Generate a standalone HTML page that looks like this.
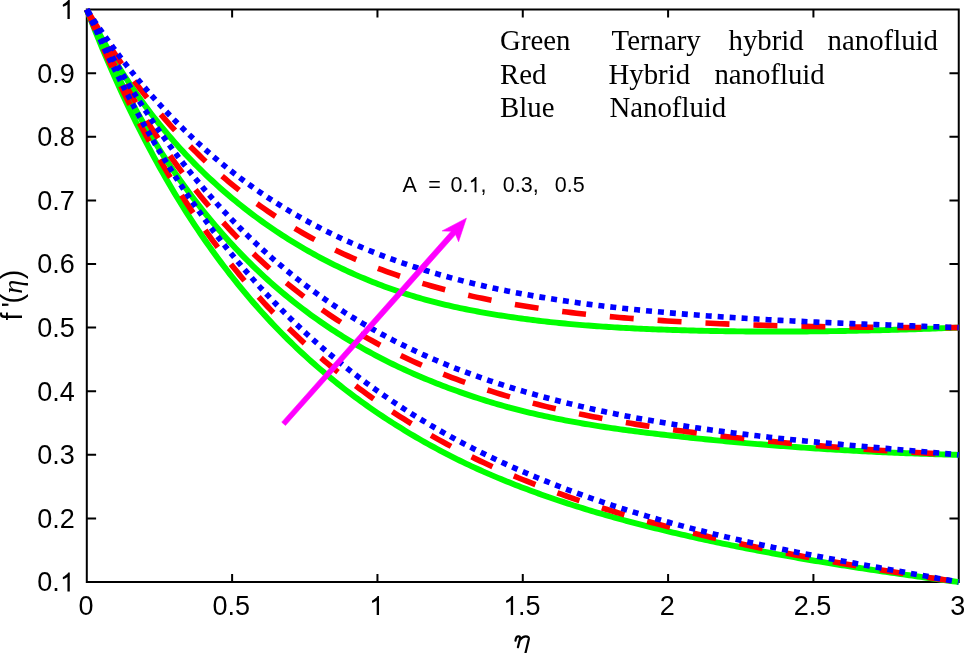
<!DOCTYPE html>
<html><head><meta charset="utf-8"><style>
html,body{margin:0;padding:0;background:#fff;width:964px;height:653px;overflow:hidden}
svg{display:block;will-change:transform}
.s{font-family:"Liberation Sans",sans-serif}
.t{font-family:"Liberation Serif",serif}
</style></head><body>
<svg width="964" height="653" viewBox="0 0 964 653">
<rect width="964" height="653" fill="#fff"/>
<path d="M86.8,9.57 H958.75 V582.06 H86.8 Z M86.80,582.06 V574.06 M86.80,9.57 V17.57 M232.12,582.06 V574.06 M232.12,9.57 V17.57 M377.45,582.06 V574.06 M377.45,9.57 V17.57 M522.78,582.06 V574.06 M522.78,9.57 V17.57 M668.10,582.06 V574.06 M668.10,9.57 V17.57 M813.42,582.06 V574.06 M813.42,9.57 V17.57 M958.75,582.06 V574.06 M958.75,9.57 V17.57 M86.8,582.06 H96.10 M958.75,582.06 H949.45 M86.8,518.45 H96.10 M958.75,518.45 H949.45 M86.8,454.84 H96.10 M958.75,454.84 H949.45 M86.8,391.23 H96.10 M958.75,391.23 H949.45 M86.8,327.62 H96.10 M958.75,327.62 H949.45 M86.8,264.01 H96.10 M958.75,264.01 H949.45 M86.8,200.40 H96.10 M958.75,200.40 H949.45 M86.8,136.79 H96.10 M958.75,136.79 H949.45 M86.8,73.18 H96.10 M958.75,73.18 H949.45 M86.8,9.57 H96.10 M958.75,9.57 H949.45" fill="none" stroke="#000" stroke-width="2"/>
<g fill="none" stroke-width="5.6" stroke-linejoin="round" stroke-linecap="butt">
<path d="M86.80,9.57 89.72,17.09 92.63,24.50 95.55,31.80 98.46,38.98 101.38,46.06 104.30,53.03 107.21,59.89 110.13,66.65 113.05,73.31 115.96,79.87 118.88,86.33 121.79,92.70 124.71,98.97 127.63,105.15 130.54,111.24 133.46,117.24 136.38,123.15 139.29,128.97 142.21,134.71 145.12,140.37 148.04,145.94 150.96,151.44 153.87,156.85 156.79,162.19 159.71,167.45 162.62,172.64 165.54,177.75 168.45,182.79 171.37,187.76 174.29,192.66 177.20,197.48 180.12,202.25 183.04,206.94 185.95,211.57 188.87,216.13 191.78,220.63 194.70,225.07 197.62,229.45 200.53,233.77 203.45,238.03 206.37,242.22 209.28,246.37 212.20,250.45 215.11,254.48 218.03,258.46 220.95,262.38 223.86,266.25 226.78,270.07 229.69,273.83 232.61,277.55 235.53,281.21 238.44,284.83 241.36,288.40 244.28,291.92 247.19,295.40 250.11,298.83 253.02,302.21 255.94,305.55 258.86,308.85 261.77,312.11 264.69,315.32 267.61,318.49 270.52,321.62 273.44,324.71 276.35,327.76 279.27,330.77 282.19,333.74 285.10,336.67 288.02,339.57 290.94,342.43 293.85,345.25 296.77,348.04 299.68,350.79 302.60,353.51 305.52,356.19 308.43,358.85 311.35,361.46 314.27,364.05 317.18,366.60 320.10,369.12 323.01,371.61 325.93,374.07 328.85,376.50 331.76,378.90 334.68,381.27 337.59,383.61 340.51,385.93 343.43,388.21 346.34,390.47 349.26,392.70 352.18,394.90 355.09,397.08 358.01,399.23 360.92,401.35 363.84,403.45 366.76,405.52 369.67,407.57 372.59,409.60 375.51,411.60 378.42,413.58 381.34,415.53 384.25,417.46 387.17,419.37 390.09,421.26 393.00,423.13 395.92,424.98 398.84,426.81 401.75,428.61 404.67,430.40 407.58,432.16 410.50,433.91 413.42,435.64 416.33,437.35 419.25,439.04 422.17,440.71 425.08,442.36 428.00,443.99 430.91,445.61 433.83,447.20 436.75,448.78 439.66,450.34 442.58,451.88 445.50,453.40 448.41,454.90 451.33,456.39 454.24,457.86 457.16,459.31 460.08,460.74 462.99,462.16 465.91,463.56 468.82,464.94 471.74,466.30 474.66,467.65 477.57,468.98 480.49,470.30 483.41,471.59 486.32,472.88 489.24,474.14 492.15,475.40 495.07,476.63 497.99,477.85 500.90,479.06 503.82,480.26 506.74,481.44 509.65,482.60 512.57,483.76 515.48,484.90 518.40,486.03 521.32,487.15 524.23,488.25 527.15,489.35 530.07,490.43 532.98,491.50 535.90,492.57 538.81,493.62 541.73,494.66 544.65,495.69 547.56,496.71 550.48,497.72 553.40,498.72 556.31,499.71 559.23,500.69 562.14,501.66 565.06,502.62 567.98,503.57 570.89,504.51 573.81,505.44 576.73,506.36 579.64,507.28 582.56,508.18 585.47,509.08 588.39,509.97 591.31,510.85 594.22,511.72 597.14,512.58 600.05,513.44 602.97,514.28 605.89,515.12 608.80,515.95 611.72,516.78 614.64,517.59 617.55,518.40 620.47,519.20 623.38,520.00 626.30,520.78 629.22,521.56 632.13,522.34 635.05,523.10 637.97,523.86 640.88,524.62 643.80,525.36 646.71,526.10 649.63,526.84 652.55,527.57 655.46,528.29 658.38,529.01 661.30,529.72 664.21,530.43 667.13,531.13 670.04,531.83 672.96,532.52 675.88,533.20 678.79,533.88 681.71,534.56 684.63,535.23 687.54,535.90 690.46,536.56 693.37,537.22 696.29,537.87 699.21,538.51 702.12,539.16 705.04,539.79 707.96,540.43 710.87,541.06 713.79,541.68 716.70,542.30 719.62,542.91 722.54,543.52 725.45,544.13 728.37,544.73 731.28,545.33 734.20,545.92 737.12,546.51 740.03,547.10 742.95,547.68 745.87,548.25 748.78,548.82 751.70,549.39 754.61,549.96 757.53,550.52 760.45,551.08 763.36,551.63 766.28,552.18 769.20,552.72 772.11,553.26 775.03,553.80 777.94,554.34 780.86,554.87 783.78,555.39 786.69,555.92 789.61,556.44 792.53,556.95 795.44,557.47 798.36,557.98 801.27,558.48 804.19,558.99 807.11,559.49 810.02,559.98 812.94,560.48 815.86,560.97 818.77,561.46 821.69,561.94 824.60,562.42 827.52,562.90 830.44,563.38 833.35,563.85 836.27,564.32 839.18,564.79 842.10,565.25 845.02,565.71 847.93,566.17 850.85,566.63 853.77,567.08 856.68,567.53 859.60,567.98 862.51,568.43 865.43,568.87 868.35,569.32 871.26,569.76 874.18,570.19 877.10,570.63 880.01,571.06 882.93,571.49 885.84,571.92 888.76,572.35 891.68,572.77 894.59,573.19 897.51,573.61 900.43,574.03 903.34,574.45 906.26,574.86 909.17,575.27 912.09,575.69 915.01,576.10 917.92,576.50 920.84,576.91 923.76,577.31 926.67,577.72 929.59,578.12 932.50,578.52 935.42,578.92 938.34,579.31 941.25,579.71 944.17,580.11 947.09,580.50 950.00,580.89 952.92,581.28 955.83,581.67 958.75,582.06" stroke="#00ff00" stroke-width="5.9"/>
<path d="M86.80,9.57 89.72,16.31 92.63,22.94 95.55,29.47 98.46,35.89 101.38,42.21 104.30,48.43 107.21,54.56 110.13,60.58 113.05,66.51 115.96,72.35 118.88,78.09 121.79,83.75 124.71,89.31 127.63,94.79 130.54,100.19 133.46,105.50 136.38,110.73 139.29,115.87 142.21,120.94 145.12,125.93 148.04,130.85 150.96,135.68 153.87,140.45 156.79,145.14 159.71,149.75 162.62,154.30 165.54,158.78 168.45,163.19 171.37,167.54 174.29,171.81 177.20,176.03 180.12,180.18 183.04,184.26 185.95,188.29 188.87,192.25 191.78,196.16 194.70,200.01 197.62,203.80 200.53,207.53 203.45,211.21 206.37,214.83 209.28,218.40 212.20,221.92 215.11,225.38 218.03,228.79 220.95,232.16 223.86,235.47 226.78,238.73 229.69,241.95 232.61,245.12 235.53,248.24 238.44,251.32 241.36,254.35 244.28,257.34 247.19,260.28 250.11,263.18 253.02,266.04 255.94,268.86 258.86,271.63 261.77,274.37 264.69,277.06 267.61,279.72 270.52,282.34 273.44,284.92 276.35,287.46 279.27,289.97 282.19,292.44 285.10,294.88 288.02,297.28 290.94,299.64 293.85,301.98 296.77,304.27 299.68,306.54 302.60,308.77 305.52,310.97 308.43,313.14 311.35,315.28 314.27,317.39 317.18,319.47 320.10,321.51 323.01,323.53 325.93,325.52 328.85,327.49 331.76,329.42 334.68,331.33 337.59,333.21 340.51,335.06 343.43,336.88 346.34,338.69 349.26,340.46 352.18,342.21 355.09,343.93 358.01,345.63 360.92,347.31 363.84,348.96 366.76,350.59 369.67,352.20 372.59,353.78 375.51,355.34 378.42,356.88 381.34,358.40 384.25,359.89 387.17,361.36 390.09,362.81 393.00,364.24 395.92,365.65 398.84,367.04 401.75,368.41 404.67,369.76 407.58,371.09 410.50,372.40 413.42,373.69 416.33,374.97 419.25,376.22 422.17,377.46 425.08,378.69 428.00,379.89 430.91,381.08 433.83,382.25 436.75,383.41 439.66,384.55 442.58,385.68 445.50,386.79 448.41,387.89 451.33,388.97 454.24,390.04 457.16,391.09 460.08,392.13 462.99,393.15 465.91,394.16 468.82,395.15 471.74,396.13 474.66,397.10 477.57,398.05 480.49,398.99 483.41,399.91 486.32,400.82 489.24,401.72 492.15,402.60 495.07,403.46 497.99,404.32 500.90,405.16 503.82,405.98 506.74,406.79 509.65,407.59 512.57,408.37 515.48,409.14 518.40,409.89 521.32,410.63 524.23,411.36 527.15,412.08 530.07,412.78 532.98,413.47 535.90,414.15 538.81,414.81 541.73,415.47 544.65,416.11 547.56,416.74 550.48,417.36 553.40,417.96 556.31,418.56 559.23,419.15 562.14,419.72 565.06,420.29 567.98,420.84 570.89,421.38 573.81,421.92 576.73,422.44 579.64,422.96 582.56,423.47 585.47,423.97 588.39,424.45 591.31,424.94 594.22,425.41 597.14,425.87 600.05,426.33 602.97,426.78 605.89,427.22 608.80,427.65 611.72,428.08 614.64,428.50 617.55,428.92 620.47,429.32 623.38,429.72 626.30,430.12 629.22,430.51 632.13,430.89 635.05,431.27 637.97,431.64 640.88,432.01 643.80,432.38 646.71,432.74 649.63,433.09 652.55,433.44 655.46,433.79 658.38,434.13 661.30,434.47 664.21,434.80 667.13,435.14 670.04,435.47 672.96,435.79 675.88,436.12 678.79,436.44 681.71,436.76 684.63,437.08 687.54,437.39 690.46,437.70 693.37,438.01 696.29,438.31 699.21,438.61 702.12,438.91 705.04,439.21 707.96,439.50 710.87,439.79 713.79,440.08 716.70,440.37 719.62,440.65 722.54,440.93 725.45,441.20 728.37,441.48 731.28,441.75 734.20,442.02 737.12,442.28 740.03,442.55 742.95,442.81 745.87,443.07 748.78,443.32 751.70,443.57 754.61,443.82 757.53,444.07 760.45,444.31 763.36,444.56 766.28,444.80 769.20,445.03 772.11,445.26 775.03,445.50 777.94,445.72 780.86,445.95 783.78,446.17 786.69,446.39 789.61,446.61 792.53,446.83 795.44,447.04 798.36,447.25 801.27,447.45 804.19,447.66 807.11,447.86 810.02,448.06 812.94,448.26 815.86,448.45 818.77,448.64 821.69,448.83 824.60,449.02 827.52,449.20 830.44,449.38 833.35,449.56 836.27,449.73 839.18,449.91 842.10,450.08 845.02,450.25 847.93,450.41 850.85,450.57 853.77,450.73 856.68,450.89 859.60,451.05 862.51,451.20 865.43,451.35 868.35,451.50 871.26,451.64 874.18,451.79 877.10,451.93 880.01,452.06 882.93,452.20 885.84,452.33 888.76,452.46 891.68,452.59 894.59,452.71 897.51,452.84 900.43,452.96 903.34,453.07 906.26,453.19 909.17,453.30 912.09,453.41 915.01,453.52 917.92,453.62 920.84,453.73 923.76,453.83 926.67,453.92 929.59,454.02 932.50,454.11 935.42,454.20 938.34,454.29 941.25,454.38 944.17,454.46 947.09,454.54 950.00,454.62 952.92,454.70 955.83,454.77 958.75,454.84" stroke="#00ff00" stroke-width="5.9"/>
<path d="M86.80,9.57 89.72,15.36 92.63,21.02 95.55,26.57 98.46,32.00 101.38,37.32 104.30,42.53 107.21,47.64 110.13,52.64 113.05,57.55 115.96,62.36 118.88,67.07 121.79,71.70 124.71,76.23 127.63,80.68 130.54,85.05 133.46,89.33 136.38,93.54 139.29,97.67 142.21,101.72 145.12,105.70 148.04,109.61 150.96,113.45 153.87,117.22 156.79,120.93 159.71,124.57 162.62,128.15 165.54,131.67 168.45,135.13 171.37,138.53 174.29,141.88 177.20,145.17 180.12,148.40 183.04,151.59 185.95,154.72 188.87,157.80 191.78,160.83 194.70,163.82 197.62,166.76 200.53,169.65 203.45,172.50 206.37,175.30 209.28,178.06 212.20,180.78 215.11,183.45 218.03,186.09 220.95,188.68 223.86,191.24 226.78,193.76 229.69,196.24 232.61,198.69 235.53,201.09 238.44,203.47 241.36,205.81 244.28,208.11 247.19,210.38 250.11,212.62 253.02,214.82 255.94,217.00 258.86,219.14 261.77,221.25 264.69,223.33 267.61,225.38 270.52,227.40 273.44,229.39 276.35,231.35 279.27,233.28 282.19,235.19 285.10,237.06 288.02,238.91 290.94,240.74 293.85,242.53 296.77,244.30 299.68,246.05 302.60,247.77 305.52,249.46 308.43,251.13 311.35,252.77 314.27,254.39 317.18,255.98 320.10,257.55 323.01,259.09 325.93,260.62 328.85,262.12 331.76,263.59 334.68,265.04 337.59,266.47 340.51,267.88 343.43,269.26 346.34,270.63 349.26,271.97 352.18,273.28 355.09,274.58 358.01,275.86 360.92,277.11 363.84,278.34 366.76,279.56 369.67,280.75 372.59,281.92 375.51,283.07 378.42,284.20 381.34,285.31 384.25,286.40 387.17,287.47 390.09,288.52 393.00,289.55 395.92,290.56 398.84,291.55 401.75,292.52 404.67,293.46 407.58,294.39 410.50,295.30 413.42,296.19 416.33,297.07 419.25,297.92 422.17,298.75 425.08,299.57 428.00,300.37 430.91,301.15 433.83,301.91 436.75,302.66 439.66,303.38 442.58,304.10 445.50,304.79 448.41,305.47 451.33,306.14 454.24,306.79 457.16,307.43 460.08,308.05 462.99,308.66 465.91,309.25 468.82,309.84 471.74,310.41 474.66,310.97 477.57,311.51 480.49,312.05 483.41,312.57 486.32,313.08 489.24,313.59 492.15,314.08 495.07,314.56 497.99,315.04 500.90,315.50 503.82,315.96 506.74,316.40 509.65,316.84 512.57,317.27 515.48,317.69 518.40,318.10 521.32,318.50 524.23,318.90 527.15,319.28 530.07,319.66 532.98,320.02 535.90,320.38 538.81,320.74 541.73,321.08 544.65,321.41 547.56,321.74 550.48,322.06 553.40,322.37 556.31,322.68 559.23,322.97 562.14,323.26 565.06,323.54 567.98,323.82 570.89,324.09 573.81,324.35 576.73,324.60 579.64,324.85 582.56,325.09 585.47,325.33 588.39,325.55 591.31,325.78 594.22,325.99 597.14,326.20 600.05,326.41 602.97,326.61 605.89,326.80 608.80,326.99 611.72,327.17 614.64,327.35 617.55,327.52 620.47,327.69 623.38,327.85 626.30,328.01 629.22,328.16 632.13,328.31 635.05,328.45 637.97,328.59 640.88,328.72 643.80,328.85 646.71,328.98 649.63,329.10 652.55,329.22 655.46,329.34 658.38,329.45 661.30,329.56 664.21,329.66 667.13,329.77 670.04,329.87 672.96,329.96 675.88,330.05 678.79,330.15 681.71,330.23 684.63,330.32 687.54,330.40 690.46,330.48 693.37,330.55 696.29,330.62 699.21,330.69 702.12,330.76 705.04,330.83 707.96,330.89 710.87,330.94 713.79,331.00 716.70,331.05 719.62,331.10 722.54,331.15 725.45,331.20 728.37,331.24 731.28,331.28 734.20,331.32 737.12,331.35 740.03,331.38 742.95,331.41 745.87,331.44 748.78,331.46 751.70,331.48 754.61,331.50 757.53,331.52 760.45,331.53 763.36,331.54 766.28,331.55 769.20,331.56 772.11,331.56 775.03,331.56 777.94,331.56 780.86,331.56 783.78,331.56 786.69,331.55 789.61,331.54 792.53,331.53 795.44,331.51 798.36,331.49 801.27,331.48 804.19,331.45 807.11,331.43 810.02,331.41 812.94,331.38 815.86,331.35 818.77,331.32 821.69,331.28 824.60,331.25 827.52,331.21 830.44,331.17 833.35,331.12 836.27,331.08 839.18,331.03 842.10,330.99 845.02,330.93 847.93,330.88 850.85,330.83 853.77,330.77 856.68,330.71 859.60,330.65 862.51,330.59 865.43,330.53 868.35,330.46 871.26,330.40 874.18,330.33 877.10,330.26 880.01,330.18 882.93,330.11 885.84,330.03 888.76,329.95 891.68,329.87 894.59,329.79 897.51,329.71 900.43,329.63 903.34,329.54 906.26,329.45 909.17,329.36 912.09,329.27 915.01,329.18 917.92,329.09 920.84,328.99 923.76,328.89 926.67,328.80 929.59,328.70 932.50,328.59 935.42,328.49 938.34,328.39 941.25,328.28 944.17,328.17 947.09,328.07 950.00,327.96 952.92,327.85 955.83,327.73 958.75,327.62" stroke="#00ff00" stroke-width="5.9"/>
<path d="M86.80,9.57 88.46,13.62 90.14,17.67 91.82,21.72 93.52,25.76 95.24,29.80M103.44,48.67 105.12,52.43 106.81,56.19 108.51,59.95 110.22,63.70 111.95,67.45M120.78,86.12 122.59,89.84 124.41,93.56 126.24,97.27 128.09,100.98 129.95,104.68M139.48,123.12 141.42,126.79 143.39,130.45 145.37,134.11 147.36,137.76 149.38,141.41M159.67,159.55 161.78,163.16 163.91,166.76 166.05,170.36 168.21,173.94 170.38,177.52M181.53,195.31 183.82,198.84 186.12,202.37 188.44,205.88 190.78,209.39 193.14,212.89M205.22,230.24 207.69,233.68 210.19,237.12 212.70,240.54 215.24,243.95 217.79,247.35M230.89,264.18 233.57,267.51 236.27,270.83 239.00,274.14 241.74,277.43 244.51,280.71M258.68,296.92 261.58,300.12 264.50,303.31 267.45,306.48 270.42,309.63 273.41,312.78M288.71,328.25 291.83,331.30 294.98,334.33 298.16,337.34 301.35,340.34 304.57,343.32M321.02,357.95 324.37,360.82 327.75,363.67 331.15,366.50 334.58,369.32 338.03,372.11M355.60,385.79 359.18,388.47 362.78,391.12 366.40,393.76 370.05,396.37 373.71,398.96M392.35,411.62 396.14,414.08 399.94,416.53 403.77,418.96 407.61,421.37 411.47,423.75M431.06,435.36 435.03,437.61 439.02,439.85 443.03,442.05 447.06,444.24 451.10,446.40M471.60,456.85 475.75,458.87 479.92,460.86 484.10,462.82 488.30,464.77 492.52,466.68M513.83,475.92 518.13,477.71 522.45,479.47 526.77,481.21 531.11,482.93 535.46,484.63M557.35,492.85 561.76,494.44 566.18,496.00 570.61,497.55 575.05,499.08 579.50,500.59M601.86,507.88 606.36,509.29 610.86,510.67 615.37,512.04 619.89,513.40 624.42,514.74M647.14,521.19 651.71,522.44 656.28,523.67 660.85,524.89 665.43,526.09 670.02,527.28M693.01,533.03 697.62,534.14 702.24,535.24 706.86,536.33 711.48,537.40 716.11,538.47M739.31,543.61 743.96,544.61 748.62,545.60 753.27,546.57 757.93,547.54 762.59,548.49M785.95,553.12 790.63,554.02 795.31,554.91 799.99,555.79 804.67,556.66 809.36,557.53M832.83,561.74 837.53,562.56 842.23,563.37 846.93,564.18 851.63,564.98 856.34,565.78M879.88,569.68 884.59,570.45 889.30,571.21 894.02,571.97 898.73,572.72 903.45,573.47M927.04,577.17 931.76,577.90 936.48,578.63 941.20,579.36 945.92,580.09 950.64,580.82" stroke="#ff0000"/>
<path d="M86.80,9.57 88.67,13.56 90.56,17.54 92.46,21.52 94.38,25.49 96.32,29.46M105.60,47.98 107.50,51.67 109.42,55.35 111.35,59.03 113.30,62.70 115.26,66.36M125.31,84.60 127.37,88.23 129.45,91.85 131.55,95.46 133.66,99.07 135.79,102.67M146.72,120.55 148.96,124.10 151.22,127.64 153.50,131.18 155.79,134.71 158.11,138.22M170.01,155.66 172.46,159.12 174.92,162.57 177.41,166.00 179.92,169.43 182.45,172.84M195.43,189.73 198.10,193.07 200.79,196.39 203.51,199.71 206.25,203.01 209.01,206.29M223.19,222.49 226.10,225.68 229.04,228.86 232.00,232.02 234.99,235.16 238.01,238.29M253.48,253.64 256.65,256.66 259.85,259.65 263.08,262.62 266.33,265.58 269.61,268.51M286.42,282.84 289.86,285.64 293.33,288.42 296.83,291.17 300.35,293.90 303.90,296.61M322.04,309.75 325.75,312.30 329.48,314.83 333.24,317.33 337.02,319.80 340.83,322.24M360.24,334.05 364.19,336.33 368.17,338.58 372.17,340.80 376.19,343.00 380.23,345.16M400.77,355.55 404.94,357.54 409.13,359.50 413.34,361.43 417.56,363.34 421.81,365.22M443.28,374.17 447.63,375.88 451.99,377.56 456.36,379.22 460.75,380.84 465.16,382.44M487.39,390.01 491.87,391.44 496.37,392.84 500.88,394.22 505.40,395.57 509.93,396.90M532.74,403.14 537.33,404.32 541.93,405.47 546.53,406.60 551.15,407.70 555.77,408.78M578.99,413.87 583.65,414.82 588.32,415.76 592.99,416.67 597.67,417.57 602.35,418.45M625.84,422.58 630.55,423.36 635.26,424.12 639.98,424.88 644.70,425.61 649.42,426.34M673.06,429.78 677.80,430.43 682.53,431.08 687.27,431.72 692.01,432.34 696.76,432.96M720.50,435.90 725.25,436.46 730.01,437.01 734.76,437.56 739.52,438.09 744.28,438.61M768.09,441.11 772.86,441.58 777.63,442.05 782.40,442.51 787.17,442.96 791.94,443.40M815.80,445.50 820.58,445.90 825.36,446.29 830.14,446.67 834.91,447.05 839.69,447.42M863.60,449.18 868.39,449.52 873.17,449.84 877.95,450.17 882.74,450.48 887.52,450.79M911.46,452.27 916.25,452.55 921.04,452.82 925.83,453.09 930.62,453.36 935.41,453.62" stroke="#ff0000"/>
<path d="M86.80,9.57 89.08,13.41 91.38,17.24 93.70,21.06 96.04,24.87 98.40,28.67M109.78,46.35 112.12,49.86 114.48,53.36 116.85,56.84 119.26,60.32 121.68,63.79M134.13,80.96 136.68,84.36 139.27,87.74 141.87,91.12 144.50,94.48 147.16,97.83M160.80,114.35 163.61,117.61 166.44,120.85 169.29,124.08 172.18,127.29 175.09,130.48M190.05,146.19 193.12,149.27 196.23,152.33 199.36,155.38 202.52,158.40 205.70,161.41M222.07,176.09 225.44,178.96 228.82,181.80 232.24,184.62 235.69,187.42 239.17,190.18M256.99,203.63 260.64,206.24 264.32,208.82 268.03,211.37 271.77,213.89 275.53,216.38M294.77,228.39 298.70,230.70 302.65,232.97 306.63,235.22 310.64,237.43 314.67,239.61M335.20,250.01 339.37,251.99 343.57,253.94 347.79,255.85 352.03,257.74 356.30,259.58M377.90,268.32 382.28,269.96 386.68,271.58 391.09,273.16 395.52,274.71 399.96,276.23M422.40,283.35 426.93,284.68 431.47,285.99 436.02,287.26 440.59,288.50 445.16,289.71M468.20,295.33 472.84,296.36 477.49,297.37 482.14,298.35 486.80,299.31 491.47,300.24M514.93,304.50 519.63,305.29 524.35,306.05 529.06,306.79 533.79,307.52 538.51,308.22M562.20,311.44 566.95,312.03 571.70,312.60 576.45,313.16 581.21,313.69 585.97,314.21M609.80,316.59 614.57,317.02 619.35,317.43 624.12,317.84 628.90,318.23 633.68,318.61M657.59,320.33 662.38,320.64 667.16,320.94 671.95,321.24 676.74,321.52 681.53,321.80M705.48,323.05 710.27,323.27 715.06,323.49 719.86,323.70 724.65,323.90 729.45,324.10M753.42,324.97 758.22,325.13 763.02,325.27 767.81,325.41 772.61,325.55 777.41,325.68M801.40,326.24 806.20,326.34 811.00,326.43 815.80,326.52 820.59,326.60 825.39,326.68M849.39,327.00 854.19,327.06 858.99,327.11 863.79,327.16 868.59,327.20 873.39,327.24M897.39,327.40 902.19,327.43 906.99,327.45 911.79,327.48 916.59,327.50 921.39,327.51M945.39,327.59 948.06,327.59 950.73,327.60 953.40,327.61 956.08,327.61 958.75,327.62" stroke="#ff0000"/>
<path d="M86.80,9.57 88.11,12.56 89.43,15.54M91.52,20.24 92.57,22.59 93.63,24.94M95.76,29.64 96.83,31.98 97.91,34.33M100.07,39.01 101.16,41.35 102.26,43.68M104.46,48.35 105.57,50.69 106.69,53.02M108.93,57.67 110.06,60.00 111.19,62.32M113.47,66.97 114.62,69.29 115.78,71.61M118.10,76.23 119.27,78.55 120.44,80.86M122.81,85.47 124.00,87.78 125.19,90.08M127.60,94.68 128.81,96.97 130.03,99.27M132.48,103.85 133.71,106.14 134.95,108.43M137.45,112.99 138.70,115.27 139.96,117.55M142.51,122.10 143.79,124.37 145.07,126.64M147.66,131.17 148.96,133.43 150.27,135.69M152.91,140.20 154.23,142.45 155.57,144.70M158.25,149.19 159.60,151.43 160.96,153.67M163.70,158.14 165.08,160.37 166.46,162.59M169.25,167.04 170.65,169.26 172.06,171.47M174.90,175.90 176.33,178.11 177.76,180.31M180.66,184.71 182.11,186.90 183.58,189.09M186.53,193.47 188.01,195.65 189.50,197.83M192.50,202.17 194.02,204.34 195.54,206.51M198.60,210.83 200.14,212.98 201.68,215.13M204.80,219.42 206.37,221.56 207.95,223.69M211.13,227.95 212.73,230.08 214.33,232.20M217.57,236.42 219.20,238.53 220.84,240.64M224.14,244.83 225.80,246.92 227.47,249.01M230.82,253.17 232.52,255.24 234.22,257.31M237.64,261.43 239.36,263.49 241.09,265.54M244.58,269.63 246.33,271.66 248.10,273.69M251.65,277.74 253.43,279.76 255.23,281.77M258.84,285.78 260.66,287.77 262.49,289.76M266.17,293.73 268.02,295.70 269.89,297.67M273.63,301.59 275.52,303.55 277.41,305.49M281.22,309.37 283.14,311.30 285.07,313.22M288.95,317.05 290.90,318.96 292.86,320.86M296.81,324.64 298.80,326.52 300.79,328.40M304.80,332.13 306.82,333.99 308.85,335.84M312.93,339.52 314.98,341.35 317.05,343.17M321.19,346.80 323.28,348.60 325.37,350.40M329.59,353.98 331.71,355.75 333.84,357.52M338.12,361.04 340.27,362.79 342.43,364.53M346.78,367.99 348.96,369.71 351.16,371.42M355.57,374.83 357.78,376.52 360.01,378.20M364.49,381.54 366.74,383.20 368.99,384.86M373.53,388.14 375.82,389.77 378.10,391.39M382.71,394.62 385.02,396.22 387.34,397.81M392.00,400.97 394.34,402.54 396.69,404.10M401.41,407.19 403.79,408.73 406.17,410.26M410.95,413.29 413.35,414.80 415.76,416.30M420.60,419.26 423.03,420.74 425.46,422.20M430.36,425.10 432.82,426.54 435.28,427.97M440.23,430.81 442.72,432.22 445.21,433.61M450.22,436.38 452.73,437.75 455.25,439.12M460.31,441.82 462.85,443.15 465.39,444.48M470.50,447.11 473.06,448.42 475.63,449.71M480.79,452.28 483.38,453.55 485.97,454.81M491.18,457.31 493.79,458.54 496.41,459.77M501.65,462.20 504.29,463.41 506.92,464.61M512.21,466.98 514.86,468.15 517.52,469.32M522.85,471.63 525.52,472.78 528.19,473.91M533.55,476.17 536.24,477.28 538.93,478.39M544.33,480.58 547.03,481.67 549.74,482.75M555.17,484.89 557.89,485.94 560.62,486.99M566.08,489.07 568.82,490.10 571.56,491.12M577.05,493.14 579.80,494.14 582.56,495.13M588.08,497.10 590.84,498.07 593.61,499.03M599.16,500.94 601.94,501.89 604.73,502.82M610.30,504.68 613.10,505.59 615.89,506.50M621.49,508.30 624.30,509.19 627.11,510.07M632.73,511.82 635.55,512.68 638.37,513.54M644.02,515.23 646.85,516.07 649.68,516.90M655.35,518.54 658.19,519.36 661.03,520.16M666.72,521.76 669.57,522.54 672.42,523.33M678.12,524.87 680.98,525.64 683.84,526.40M689.57,527.90 692.43,528.64 695.30,529.37M701.04,530.83 703.92,531.55 706.79,532.27M712.55,533.68 715.43,534.38 718.31,535.07M724.09,536.45 726.97,537.13 729.86,537.80M735.65,539.14 738.54,539.80 741.44,540.46M747.23,541.76 750.13,542.40 753.03,543.04M758.84,544.31 761.74,544.93 764.65,545.56M770.47,546.79 773.37,547.40 776.29,548.01M782.11,549.22 785.02,549.82 787.94,550.41M793.77,551.59 796.69,552.17 799.61,552.76M805.45,553.91 808.37,554.48 811.29,555.06M817.13,556.19 820.06,556.75 822.98,557.31M828.83,558.43 831.76,558.98 834.68,559.53M840.54,560.63 843.47,561.17 846.40,561.72M852.25,562.80 855.18,563.34 858.11,563.88M863.98,564.95 866.91,565.48 869.84,566.02M875.70,567.08 878.64,567.61 881.57,568.14M887.43,569.19 890.37,569.72 893.30,570.25M899.17,571.30 902.10,571.83 905.03,572.35M910.90,573.40 913.83,573.93 916.77,574.46M922.63,575.51 925.57,576.04 928.50,576.56M934.37,577.62 937.30,578.15 940.23,578.68M946.09,579.75 949.03,580.28 951.96,580.81M957.82,581.89 958.28,581.97 958.75,582.06" stroke="#0000ff"/>
<path d="M86.80,9.57 88.30,12.49 89.81,15.41M92.21,20.01 93.42,22.31 94.63,24.60M97.08,29.19 98.31,31.48 99.54,33.77M102.03,38.34 103.28,40.62 104.54,42.90M107.07,47.45 108.34,49.72 109.63,51.99M112.20,56.53 113.50,58.79 114.81,61.05M117.43,65.56 118.75,67.82 120.08,70.07M122.76,74.56 124.11,76.81 125.46,79.05M128.18,83.52 129.56,85.75 130.94,87.98M133.71,92.43 135.11,94.65 136.52,96.87M139.35,101.30 140.78,103.51 142.21,105.71M145.09,110.11 146.55,112.31 148.01,114.50M150.95,118.88 152.43,121.06 153.92,123.24M156.92,127.59 158.43,129.76 159.95,131.92M163.01,136.24 164.55,138.40 166.10,140.55M169.22,144.83 170.79,146.97 172.37,149.11M175.56,153.36 177.16,155.49 178.77,157.60M182.02,161.82 183.65,163.93 185.30,166.03M188.61,170.22 190.28,172.30 191.95,174.38M195.33,178.53 197.04,180.60 198.75,182.66M202.19,186.77 203.93,188.82 205.68,190.86M209.19,194.93 210.97,196.95 212.75,198.97M216.34,203.00 218.14,205.00 219.96,207.00M223.62,210.98 225.47,212.96 227.32,214.93M231.06,218.86 232.94,220.81 234.83,222.76M238.64,226.64 240.56,228.57 242.49,230.50M246.37,234.32 248.33,236.22 250.29,238.12M254.26,241.89 256.25,243.76 258.26,245.63M262.30,249.34 264.33,251.19 266.38,253.03M270.49,256.68 272.57,258.49 274.65,260.30M278.84,263.89 280.96,265.67 283.08,267.45M287.35,270.97 289.50,272.72 291.67,274.46M296.02,277.92 298.21,279.63 300.41,281.34M304.84,284.73 307.07,286.40 309.31,288.08M313.82,291.39 316.08,293.03 318.36,294.67M322.95,297.91 325.25,299.51 327.57,301.11M332.23,304.27 334.57,305.84 336.92,307.39M341.66,310.48 344.04,312.01 346.43,313.52M351.24,316.53 353.66,318.01 356.08,319.49M360.96,322.41 363.41,323.86 365.87,325.29M370.82,328.13 373.31,329.54 375.80,330.93M380.82,333.69 383.34,335.05 385.87,336.40M390.95,339.07 393.50,340.39 396.06,341.70M401.21,344.28 403.79,345.56 406.38,346.82M411.58,349.32 414.20,350.56 416.82,351.78M422.08,354.19 424.72,355.38 427.37,356.56M432.68,358.89 435.35,360.04 438.03,361.18M443.40,363.42 446.09,364.52 448.79,365.62M454.21,367.77 456.93,368.84 459.65,369.89M465.11,371.96 467.86,372.98 470.60,373.99M476.11,375.98 478.87,376.96 481.64,377.93M487.19,379.84 489.97,380.78 492.75,381.72M498.34,383.55 501.14,384.45 503.94,385.35M509.56,387.11 512.38,387.98 515.19,388.84M520.84,390.53 523.67,391.36 526.51,392.19M532.18,393.82 535.02,394.62 537.87,395.41M543.57,396.98 546.43,397.75 549.29,398.51M555.01,400.01 557.88,400.75 560.75,401.48M566.50,402.91 569.38,403.62 572.26,404.32M578.03,405.70 580.92,406.38 583.81,407.05M589.60,408.37 592.50,409.01 595.40,409.65M601.20,410.92 604.11,411.54 607.02,412.15M612.84,413.36 615.76,413.95 618.68,414.54M624.52,415.69 627.44,416.26 630.36,416.82M636.22,417.92 639.15,418.46 642.08,418.99M647.94,420.05 650.88,420.56 653.82,421.08M659.69,422.08 662.64,422.58 665.58,423.07M671.47,424.03 674.41,424.50 677.36,424.97M683.26,425.89 686.21,426.34 689.16,426.79M695.07,427.66 698.02,428.10 700.98,428.52M706.90,429.36 709.86,429.78 712.82,430.19M718.74,430.99 721.70,431.38 724.66,431.78M730.59,432.55 733.56,432.92 736.53,433.30M742.46,434.04 745.43,434.40 748.40,434.76M754.34,435.46 757.31,435.81 760.28,436.16M766.23,436.84 769.20,437.17 772.17,437.50M778.12,438.16 781.10,438.48 784.07,438.80M790.03,439.43 793.00,439.74 795.98,440.05M801.94,440.65 804.91,440.95 807.89,441.25M813.85,441.84 816.83,442.13 819.81,442.42M825.77,442.99 828.75,443.28 831.73,443.56M837.70,444.12 840.68,444.39 843.66,444.67M849.62,445.21 852.61,445.48 855.59,445.75M861.56,446.29 864.54,446.56 867.52,446.82M873.49,447.35 876.47,447.61 879.46,447.87M885.42,448.40 888.41,448.66 891.39,448.92M897.36,449.44 900.34,449.69 903.33,449.95M909.29,450.47 912.28,450.73 915.26,450.99M921.23,451.51 924.21,451.77 927.20,452.03M933.16,452.56 936.15,452.82 939.13,453.08M945.10,453.61 948.08,453.88 951.06,454.15M957.03,454.68 957.89,454.76 958.75,454.84" stroke="#0000ff"/>
<path d="M86.80,9.57 88.63,12.36 90.47,15.14M93.40,19.52 94.87,21.71 96.35,23.89M99.34,28.24 100.85,30.42 102.36,32.58M105.41,36.91 106.95,39.06 108.50,41.21M111.61,45.50 113.18,47.64 114.76,49.78M117.94,54.04 119.55,56.16 121.16,58.27M124.41,62.50 126.05,64.60 127.69,66.70M131.01,70.88 132.68,72.96 134.37,75.04M137.76,79.19 139.46,81.25 141.18,83.31M144.65,87.41 146.39,89.45 148.15,91.49M151.68,95.54 153.47,97.56 155.26,99.57M158.87,103.58 160.69,105.58 162.53,107.56M166.22,111.52 168.08,113.49 169.95,115.45M173.72,119.36 175.62,121.30 177.53,123.24M181.38,127.09 183.32,129.00 185.28,130.91M189.21,134.70 191.19,136.58 193.18,138.46M197.20,142.19 199.22,144.04 201.26,145.89M205.36,149.55 207.42,151.38 209.50,153.19M213.68,156.79 215.79,158.57 217.91,160.35M222.18,163.88 224.33,165.63 226.49,167.37M230.84,170.83 233.03,172.54 235.23,174.25M239.67,177.63 241.90,179.30 244.15,180.97M248.67,184.27 250.95,185.90 253.23,187.53M257.84,190.75 260.15,192.34 262.48,193.93M267.17,197.06 269.52,198.62 271.89,200.16M276.66,203.21 279.06,204.72 281.46,206.21M286.31,209.17 288.75,210.64 291.19,212.09M296.12,214.96 298.59,216.38 301.08,217.79M306.07,220.57 308.58,221.94 311.10,223.30M316.17,225.99 318.72,227.31 321.28,228.63M326.42,231.22 329.00,232.50 331.59,233.77M336.79,236.26 339.41,237.49 342.03,238.71M347.30,241.12 349.94,242.30 352.60,243.47M357.92,245.78 360.60,246.92 363.28,248.04M368.66,250.26 371.37,251.35 374.08,252.43M379.52,254.55 382.24,255.59 384.98,256.62M390.47,258.65 393.22,259.65 395.98,260.64M401.51,262.58 404.29,263.53 407.07,264.47M412.64,266.33 415.44,267.24 418.24,268.14M423.86,269.90 426.67,270.77 429.49,271.63M435.14,273.31 437.98,274.14 440.81,274.95M446.50,276.55 449.35,277.34 452.21,278.11M457.92,279.63 460.79,280.37 463.66,281.11M469.41,282.54 472.29,283.25 475.17,283.94M480.95,285.30 483.84,285.96 486.74,286.61M492.54,287.89 495.44,288.52 498.35,289.14M504.18,290.34 507.09,290.93 510.01,291.51M515.86,292.65 518.78,293.20 521.71,293.75M527.57,294.82 530.50,295.35 533.44,295.87M539.32,296.88 542.26,297.37 545.20,297.86M551.09,298.81 554.04,299.28 556.99,299.74M562.89,300.63 565.85,301.07 568.80,301.50M574.72,302.35 577.68,302.76 580.64,303.17M586.56,303.96 589.53,304.35 592.49,304.73M598.42,305.47 601.39,305.84 604.36,306.20M610.30,306.90 613.28,307.24 616.25,307.58M622.20,308.23 625.17,308.56 628.15,308.87M634.10,309.49 637.08,309.80 640.06,310.09M646.02,310.68 649.00,310.96 651.98,311.25M657.94,311.80 660.93,312.07 663.91,312.33M669.88,312.85 672.86,313.11 675.85,313.36M681.82,313.86 684.80,314.10 687.79,314.34M693.76,314.80 696.75,315.03 699.74,315.26M705.71,315.70 708.70,315.92 711.69,316.14M717.67,316.56 720.66,316.76 723.65,316.96M729.63,317.36 732.62,317.56 735.61,317.75M741.60,318.13 744.59,318.31 747.58,318.49M753.57,318.85 756.56,319.02 759.55,319.20M765.54,319.54 768.53,319.70 771.53,319.87M777.51,320.19 780.51,320.35 783.50,320.50M789.49,320.81 792.48,320.96 795.48,321.11M801.47,321.40 804.46,321.54 807.46,321.68M813.45,321.96 816.45,322.10 819.44,322.23M825.43,322.50 828.43,322.63 831.43,322.76M837.42,323.02 840.41,323.14 843.41,323.27M849.40,323.51 852.40,323.63 855.40,323.76M861.39,323.99 864.39,324.11 867.38,324.23M873.38,324.46 876.37,324.58 879.37,324.69M885.36,324.92 888.36,325.03 891.36,325.14M897.35,325.36 900.35,325.48 903.35,325.59M909.34,325.81 912.34,325.92 915.33,326.03M921.33,326.24 924.33,326.35 927.32,326.46M933.32,326.68 936.31,326.79 939.31,326.90M945.31,327.12 948.30,327.23 951.30,327.34M957.29,327.57 958.02,327.59 958.75,327.62" stroke="#0000ff"/>
</g>
<polygon points="281.73,422.14 451.2,231.2 442.2,230.9 466.4,218.2 458.6,241.7 455.6,234.6 285.47,425.46" fill="#ff00ff" stroke="#ff00ff" stroke-width="0.6" stroke-linejoin="round"/>
<g class="s" font-size="27" fill="#000">
<text x="78.39" y="615.00">0</text><text x="212.46" y="615.00">0.5</text><text x="518.12" y="615.00">.5</text><text x="659.69" y="615.00">2</text><text x="793.76" y="615.00">2.5</text><text x="950.34" y="615.00">3</text><text x="37.27" y="591.41">0.</text><text x="37.27" y="527.80">0.2</text><text x="37.27" y="464.19">0.3</text><text x="37.27" y="400.58">0.4</text><text x="37.27" y="336.97">0.5</text><text x="37.27" y="273.36">0.6</text><text x="37.27" y="209.75">0.7</text><text x="37.27" y="146.14">0.8</text><text x="37.27" y="82.53">0.9</text>
</g>
<g class="s" font-size="21.5" fill="#000">
<text x="402.56" y="192.2">A</text><text x="428.15" y="192.2">=</text><text x="450.56" y="192.20">0.</text><text x="480.44" y="192.20">,</text><text x="502.86" y="192.20">0.3,</text><text x="554.76" y="192.20">0.5</text>
</g>
<path d="  M379.03,615.00 L379.03,596.02 L377.63,596.02 C376.33,597.99 374.17,599.48 372.20,600.55 L371.96,601.77 L372.42,602.90 C374.17,602.17 375.66,601.37 376.69,600.55 L376.69,615.00 Z M513.10,615.00 L513.10,596.02 L511.70,596.02 C510.40,597.99 508.24,599.48 506.27,600.55 L506.03,601.77 L506.49,602.90 C508.24,602.17 509.73,601.37 510.75,600.55 L510.75,615.00 Z    M69.78,591.41 L69.78,572.43 L68.37,572.43 C67.08,574.40 64.92,575.88 62.95,576.96 L62.70,578.18 L63.16,579.31 C64.92,578.58 66.40,577.77 67.43,576.96 L67.43,591.41 Z         M69.78,18.92 L69.78,-0.06 L68.37,-0.06 C67.08,1.91 64.92,3.40 62.95,4.48 L62.70,5.69 L63.16,6.82 C64.92,6.10 66.40,5.29 67.43,4.48 L67.43,18.92 Z M476.45,192.20 L476.45,177.09 L475.33,177.09 C474.30,178.66 472.58,179.84 471.01,180.70 L470.81,181.66 L471.18,182.57 C472.58,181.99 473.76,181.34 474.58,180.70 L474.58,192.20 Z  " fill="#000"/>
<g class="t" font-size="28.8" fill="#000">
<text x="500.1" y="49.9">Green</text><text x="611.6" y="49.9">Ternary</text><text x="728.5" y="49.9">hybrid</text><text x="827.6" y="49.9">nanofluid</text>
<text x="500.1" y="83.5">Red</text><text x="608.5" y="83.5">Hybrid</text><text x="714.4" y="83.5">nanofluid</text>
<text x="500.1" y="117">Blue</text><text x="609.5" y="117">Nanofluid</text>
</g>
<path d="M515.5,640.6 C515.8,638 517.2,636.3 518.6,636.4 C520,636.5 520.4,637.3 520.1,638.4 L517.9,647.2 M520.5,639.5 C522,637.3 524,636.4 525.8,636.4 C528,636.4 529,637.3 528.8,639 L525,655" fill="none" stroke="#000" stroke-width="2.2" stroke-linecap="round"/>
<g transform="translate(22.4,321.0) rotate(-90)"><text class="s" font-size="29" x="0.6" y="0">f</text><text class="s" font-size="29" x="13.43" y="0">'</text><text class="s" font-size="29" x="17.6" y="0">(</text><text class="t" font-size="28" font-style="italic" x="27.24" y="0">η</text><text class="s" font-size="29" x="41.85" y="0">)</text></g>
</svg>
</body></html>
